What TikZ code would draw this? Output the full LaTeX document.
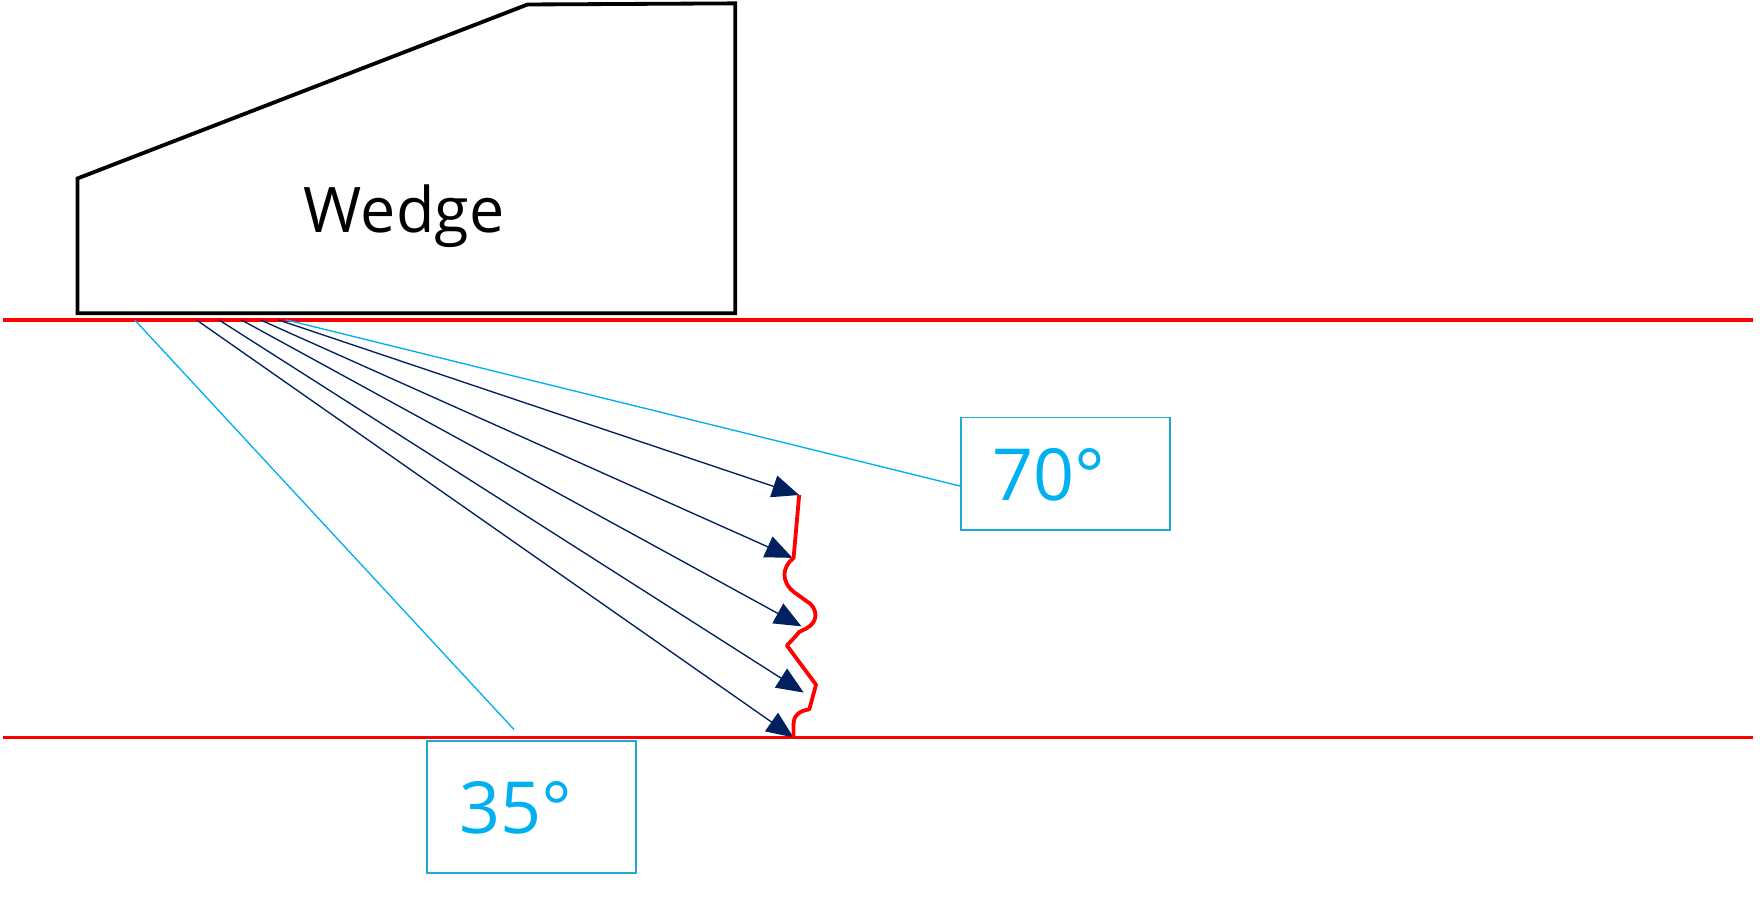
\documentclass[tikz,border=0pt]{standalone}
\usetikzlibrary{arrows.meta}
\usepackage{fontspec}
\setmainfont{Open Sans}
\definecolor{navy}{RGB}{0,32,96}
\definecolor{cyanl}{RGB}{0,176,240}
\definecolor{boxc}{RGB}{30,170,210}
\begin{document}
\begin{tikzpicture}[x=0.5pt,y=-0.5pt,
  ray/.style={navy,line width=0.6pt,-{Triangle[length=12pt,width=10pt]}},
  guide/.style={cyanl,line width=0.6pt},
  lbl/.style={draw=boxc,line width=0.8pt,minimum width=93pt,minimum height=50pt,inner sep=0pt},
  lbltext/.style={text=cyanl,font=\fontsize{32}{36}\selectfont,anchor=west,inner sep=0pt},
  face/.style={red,line width=1.7pt}]
\useasboundingbox (0,0) rectangle (1568,808);
\draw[line width=1.7pt] (69,279) -- (69,159) -- (470,4) -- (655,3) -- (655,279) -- cycle;
\node[font=\fontsize{28}{30}\selectfont] (w) at (360,193) {Wedge};
\draw[face] (3,285) -- (1562,285);
\draw[face] (3,657) -- (1562,657);
\coordinate (s1) at (248,285); \coordinate (s2) at (232,285);
\coordinate (s3) at (215,285); \coordinate (s4) at (195,285);
\coordinate (s5) at (175,285);
\coordinate (e1) at (712,441); \coordinate (e2) at (706,497);
\coordinate (e3) at (714,558); \coordinate (e4) at (716,617);
\coordinate (e5) at (707,657);
\foreach \i in {1,...,5} \draw[ray] (s\i) -- (e\i);
\draw[face,line join=round] (e1) -- (707,497) .. controls (697,505) and (695,518) .. (708,528)
  -- (722,538) .. controls (729,545) and (728,555) .. (718,560) -- (712,563)
  .. controls (708,568) and (704,572) .. (701,575) -- (727,610) -- (721,632)
  .. controls (713,633) and (707,637) .. (707,645) -- (707,657);
\node[lbl] (a70) at (949,422) {};
\node[lbltext] (t70) at (884,423) {70°};
\node[lbl,minimum height=59pt] (a35) at (473.5,719) {};
\node[lbltext] (t35) at (409,720) {35°};
\coordinate (g1) at (120,285); \coordinate (g2) at (255,285);
\draw[guide] (g1) -- (458,650);
\draw[guide] (g2) -- (a70.west |- 0,433);
\end{tikzpicture}
\end{document}
